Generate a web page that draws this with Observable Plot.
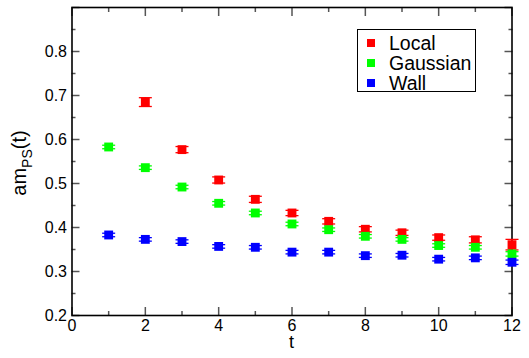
<!DOCTYPE html>
<html><head><meta charset="utf-8">
<script src="https://cdn.jsdelivr.net/npm/d3@7"></script>
<script src="https://cdn.jsdelivr.net/npm/@observablehq/plot@0.6"></script>
<style>
html,body{margin:0;padding:0;background:#fff;}
#wrap{position:relative;width:529px;height:358px;font-family:"Liberation Sans",Arial,Helvetica,sans-serif;}
#legend{position:absolute;left:357px;top:29px;width:119px;height:63px;border:1px solid #000;box-sizing:border-box;background:#fff;}
.item{position:absolute;left:0;height:20px;line-height:20px;font-size:19.5px;color:#000;}
.item .sw{position:absolute;left:9px;top:6px;width:8px;height:8px;}
.item .lb{position:absolute;left:31px;top:0;white-space:nowrap;}
</style>
</head><body>
<div id="wrap"></div>
<script>
// ---- data ----
const tValues = [1,2,3,4,5,6,7,8,9,10,11,12];
const seriesNames = ["Local","Gaussian","Wall"];
const seriesColors = ["#ff0000","#00ff00","#0000ff"];
const localVals  = [null,0.685,0.577,0.508,0.464,0.433,0.414,0.396,0.388,0.377,0.372,0.361];
const localErr   = [null,0.010,0.007,0.007,0.007,0.006,0.006,0.006,0.006,0.006,0.007,0.012];
const gaussVals  = [0.583,0.536,0.492,0.455,0.433,0.408,0.395,0.380,0.373,0.359,0.355,0.340];
const gaussErr   = [0.004,0.004,0.004,0.004,0.004,0.004,0.004,0.004,0.004,0.004,0.004,0.005];
const wallVals   = [0.383,0.373,0.368,0.357,0.355,0.344,0.344,0.336,0.337,0.328,0.331,0.321];
const wallErr    = [0.004,0.004,0.004,0.004,0.004,0.004,0.004,0.004,0.004,0.004,0.004,0.005];
const xMajor = [0,2,4,6,8,10,12];
const xMinor = [1,3,5,7,9,11];
const yMajor = [0.2,0.3,0.4,0.5,0.6,0.7,0.8,0.9];
const yMinor = [0.25,0.35,0.45,0.55,0.65,0.75,0.85];
const yLabels = [0.2,0.3,0.4,0.5,0.6,0.7,0.8];

const valuesBySeries = [localVals, gaussVals, wallVals];
const errBySeries = [localErr, gaussErr, wallErr];

const rows = [];
seriesNames.forEach((name, si) => {
  tValues.forEach((t, i) => {
    const v = valuesBySeries[si][i];
    if (v != null) rows.push({series: name, t, v, e: errBySeries[si][i]});
  });
});

const capSymbol = {draw(ctx, size) { ctx.moveTo(-6.5, 0); ctx.lineTo(6.5, 0); }};
const tickColor = "#555";

const dataMarks = [];
seriesNames.forEach(name => {
  const d = rows.filter(r => r.series === name);
  dataMarks.push(
    Plot.ruleX(d, {x: "t", y1: r => r.v - r.e, y2: r => r.v + r.e, stroke: "series", strokeWidth: 1.3}),
    Plot.dot(d, {x: "t", y: r => r.v + r.e, symbol: capSymbol, stroke: "series", strokeWidth: 1.3, r: 5}),
    Plot.dot(d, {x: "t", y: r => r.v - r.e, symbol: capSymbol, stroke: "series", strokeWidth: 1.3, r: 5}),
    Plot.dot(d, {x: "t", y: "v", symbol: "square", fill: "series", stroke: "none", r: 5})
  );
});

const chart = Plot.plot({
  width: 529, height: 358,
  marginLeft: 71.5, marginRight: 17.5, marginTop: 7, marginBottom: 43,
  style: {fontFamily: '"Liberation Sans", Arial, Helvetica, sans-serif', fontSize: "16px", color: "#000", background: "#fff", overflow: "visible"},
  x: {domain: [0, 12]},
  y: {domain: [0.2, 0.9]},
  color: {domain: seriesNames, range: seriesColors},
  marks: [
    // ticks (inward, mirrored)
    Plot.axisY({anchor: "left", ticks: yMajor, tickSize: 8, dx: 8, fill: "none", stroke: tickColor, strokeWidth: 1.5, label: null}),
    Plot.axisY({anchor: "left", ticks: yMinor, tickSize: 4, dx: 4, fill: "none", stroke: tickColor, strokeWidth: 1.5, label: null}),
    Plot.axisY({anchor: "right", ticks: yMajor, tickSize: 8, dx: -8, fill: "none", stroke: tickColor, strokeWidth: 1.5, label: null}),
    Plot.axisY({anchor: "right", ticks: yMinor, tickSize: 4, dx: -4, fill: "none", stroke: tickColor, strokeWidth: 1.5, label: null}),
    Plot.axisX({anchor: "bottom", ticks: xMajor, tickSize: 8, dy: -8, fill: "none", stroke: tickColor, strokeWidth: 1.5, label: null}),
    Plot.axisX({anchor: "bottom", ticks: xMinor, tickSize: 4, dy: -4, fill: "none", stroke: tickColor, strokeWidth: 1.5, label: null}),
    Plot.axisX({anchor: "top", ticks: xMajor, tickSize: 8, dy: 8, fill: "none", stroke: tickColor, strokeWidth: 1.5, label: null}),
    Plot.axisX({anchor: "top", ticks: xMinor, tickSize: 4, dy: 4, fill: "none", stroke: tickColor, strokeWidth: 1.5, label: null}),
    // tick labels
    Plot.axisY({anchor: "left", ticks: yLabels, tickSize: 0, tickPadding: 5, tickFormat: d3.format(".1f"), label: null, fontSize: 16}),
    Plot.axisX({anchor: "bottom", ticks: xMajor, tickSize: 0, tickPadding: 4, tickFormat: d3.format("d"), label: null, fontSize: 16}),
    Plot.frame({stroke: "#000", strokeWidth: 1.6}),
    ...dataMarks
  ]
});

document.getElementById("wrap").appendChild(chart);

const svg = d3.select(chart);
const ff = '"Liberation Sans", Arial, Helvetica, sans-serif';
const yl = svg.append("text")
  .attr("transform", "translate(26,163) rotate(-90)")
  .attr("text-anchor", "middle")
  .attr("font-family", ff).attr("font-size", 20).attr("fill", "#000");
yl.append("tspan").text("am");
yl.append("tspan").attr("font-size", 14).attr("dy", 6).text("PS");
yl.append("tspan").attr("dy", -6).text("(t)");
svg.append("text")
  .attr("x", 291.5).attr("y", 348)
  .attr("text-anchor", "middle")
  .attr("font-family", ff).attr("font-size", 18).attr("fill", "#000")
  .text("t");

// legend
const legend = document.createElement("div");
legend.id = "legend";
const rowCenters = [12.5, 32.7, 52.7];
seriesNames.forEach((name, i) => {
  const it = document.createElement("div");
  it.className = "item";
  it.style.top = (rowCenters[i] - 10) + "px";
  it.innerHTML = `<span class="sw" style="background:${seriesColors[i]}"></span><span class="lb">${name}</span>`;
  legend.appendChild(it);
});
document.getElementById("wrap").appendChild(legend);
</script>
</body></html>
